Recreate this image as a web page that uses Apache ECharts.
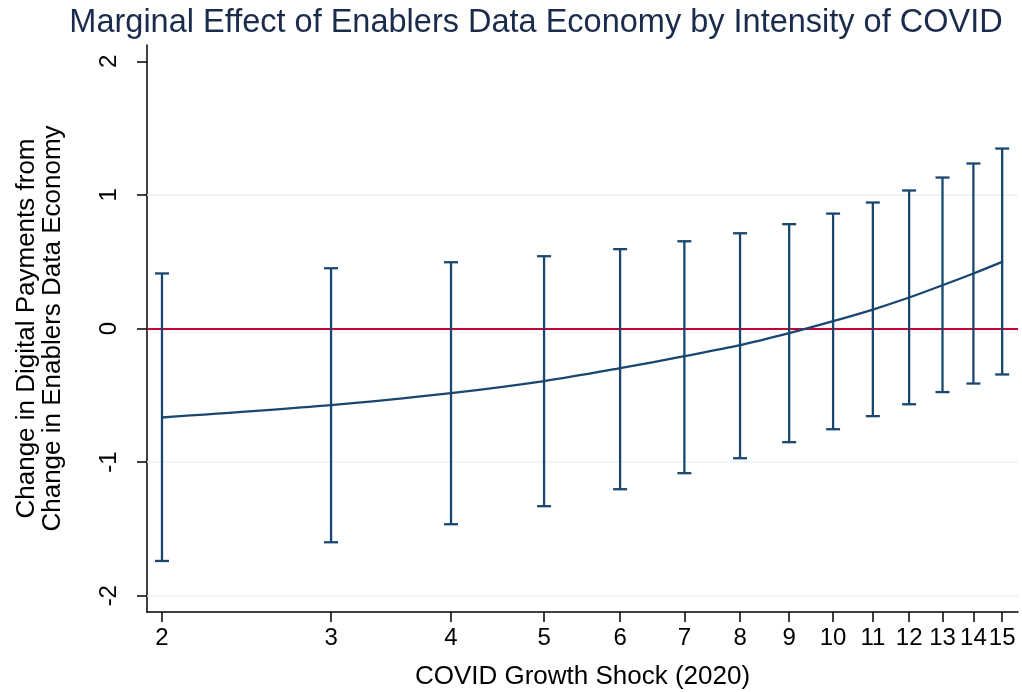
<!DOCTYPE html>
<html><head><meta charset="utf-8">
<script src="https://cdn.jsdelivr.net/npm/echarts@6/dist/echarts.min.js"></script>
<style>html,body{margin:0;padding:0;background:#fff}#c{width:1022px;height:692px}</style>
</head><body><div id="c"></div>
<script>
const shock = [2,3,4,5,6,7,8,9,10,11,12,13,14,15];
const effect = [-0.666,-0.574,-0.484,-0.394,-0.297,-0.207,-0.125,-0.035,0.055,0.142,0.232,0.324,0.412,0.499];
const lower = [-1.74,-1.60,-1.465,-1.330,-1.203,-1.083,-0.971,-0.851,-0.754,-0.656,-0.567,-0.476,-0.412,-0.344];
const upper = [0.412,0.451,0.496,0.541,0.594,0.653,0.713,0.781,0.860,0.943,1.033,1.130,1.235,1.347];
const yTicks = [-2,-1,0,1,2];
const gridYs = [-2,-1,1];

const navy = '#1a476f';
const lnX = shock.map(v => Math.log(v));
const chart = echarts.init(document.getElementById('c'));
const font = 'Liberation Sans, Arial, sans-serif';
chart.setOption({
  animation:false,
  backgroundColor:'#fff',
  title:{text:'Marginal Effect of Enablers Data Economy by Intensity of COVID',left:531,textAlign:'center',top:2,
    textStyle:{color:'#1a2b4c',fontSize:32.5,fontWeight:'normal',fontFamily:font}},
  grid:{left:147,right:4,top:45,bottom:80,outerBoundsMode:'none',containLabel:false},
  xAxis:{type:'value',min:0.6572,max:2.746,
    name:'COVID Growth Shock (2020)',nameLocation:'middle',nameGap:52,
    nameTextStyle:{color:'#000',fontSize:26,fontFamily:font},
    axisLine:{show:true,onZero:false,lineStyle:{color:'#000',width:1.5}},
    axisTick:{show:true,length:10,customValues:lnX,lineStyle:{color:'#000',width:1.5}},
    axisLabel:{customValues:lnX,formatter:v=>String(Math.round(Math.exp(v))),color:'#000',fontSize:24,fontFamily:font,margin:14,hideOverlap:false},
    splitLine:{show:false}},
  yAxis:{type:'value',min:-2.122,max:2.122,
    name:'Change in Digital Payments from\nChange in Enablers Data Economy',nameLocation:'middle',nameRotate:90,nameGap:81,
    nameTextStyle:{color:'#000',fontSize:26,lineHeight:26,fontFamily:font},
    axisLine:{show:true,onZero:false,lineStyle:{color:'#000',width:1.5}},
    axisTick:{show:true,length:10,customValues:yTicks,lineStyle:{color:'#000',width:1.5}},
    axisLabel:{customValues:yTicks,rotate:90,color:'#000',fontSize:24,fontFamily:font,margin:26},
    splitLine:{show:false}},
  series:[
    {type:'line',data:[],silent:true,z:1,
      markLine:{symbol:'none',silent:true,label:{show:false},
        data:gridYs.map(v=>({yAxis:v,lineStyle:{color:'#eaf2f3',width:1.5,type:'solid'}})).concat([{yAxis:0,lineStyle:{color:'#c10534',width:2,type:'solid'}}])}},
    {type:'custom',data:shock.map((s,i)=>[lnX[i],lower[i],upper[i]]),z:5,
      renderItem:(params,api)=>{
        const lo = api.coord([api.value(0),api.value(1)]);
        const hi = api.coord([api.value(0),api.value(2)]);
        const w = 7;
        const st = {stroke:navy,lineWidth:2.3};
        return {type:'group',children:[
          {type:'line',shape:{x1:lo[0],y1:lo[1],x2:hi[0],y2:hi[1]},style:st},
          {type:'line',shape:{x1:lo[0]-w,y1:lo[1],x2:lo[0]+w,y2:lo[1]},style:st},
          {type:'line',shape:{x1:hi[0]-w,y1:hi[1],x2:hi[0]+w,y2:hi[1]},style:st}]};
      }},
    {type:'line',data:shock.map((s,i)=>[lnX[i],effect[i]]),smooth:0.3,showSymbol:false,z:6,
      lineStyle:{color:navy,width:2.3}}
  ]
});
</script></body></html>
